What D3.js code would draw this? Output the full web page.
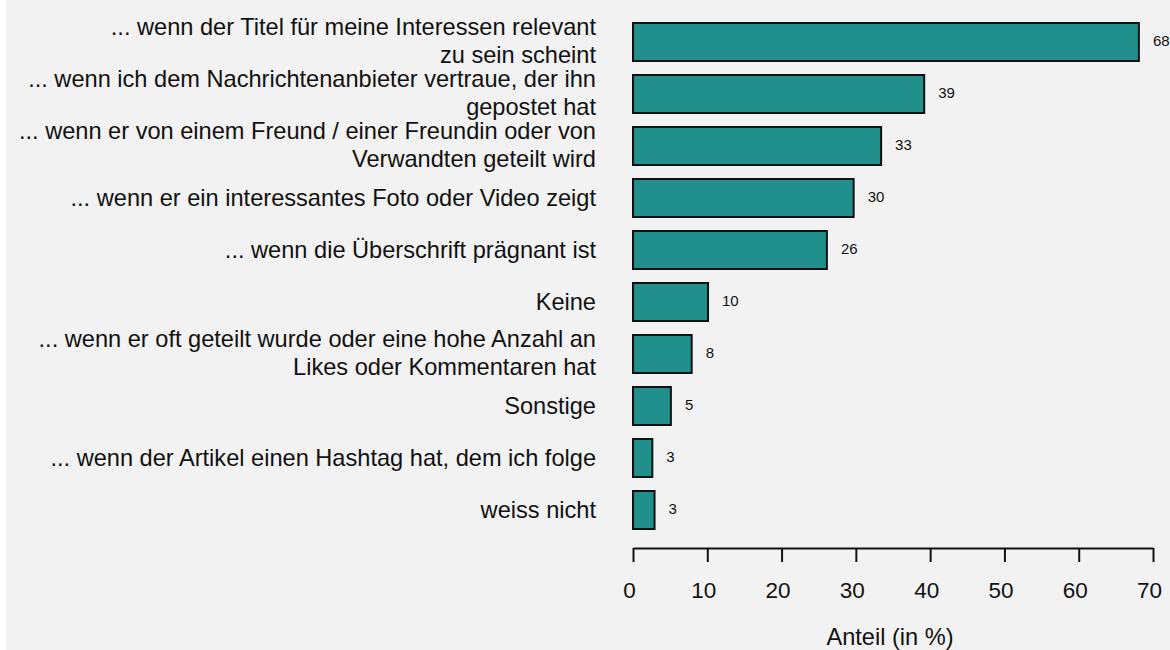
<!DOCTYPE html>
<html>
<head>
<meta charset="utf-8">
<script src="https://cdn.jsdelivr.net/npm/d3@7"></script>
<style>
  body { margin: 0; background: #ffffff; }
  svg { display: block; font-family: "Liberation Sans", Arial, sans-serif; }
</style>
</head>
<body>
<svg class="chart"></svg>
<script>
// Chart data.
var categories = [
    ["... wenn der Titel für meine Interessen relevant", "zu sein scheint"],
    ["... wenn ich dem Nachrichtenanbieter vertraue, der ihn", "gepostet hat"],
    ["... wenn er von einem Freund / einer Freundin oder von", "Verwandten geteilt wird"],
    ["... wenn er ein interessantes Foto oder Video zeigt"],
    ["... wenn die Überschrift prägnant ist"],
    ["Keine"],
    ["... wenn er oft geteilt wurde oder eine hohe Anzahl an", "Likes oder Kommentaren hat"],
    ["Sonstige"],
    ["... wenn der Artikel einen Hashtag hat, dem ich folge"],
    ["weiss nicht"]
];
var values = [68.1, 39.2, 33.4, 29.7, 26.1, 10.1, 7.9, 5.1, 2.6, 2.9];
var xTicks = [0, 10, 20, 30, 40, 50, 60, 70];
var xTitle = "Anteil (in %)";

window.onload = function () {

    var width = 1170;
    var height = 650;

    var svg = d3.select("svg.chart")
        .attr("width", width)
        .attr("height", height);

    svg.append("rect") // panel background
        .attr("x", 6)
        .attr("y", 0)
        .attr("width", width - 6)
        .attr("height", height)
        .attr("fill", "#f2f2f2");

    var rows = categories.map(function (lines, i) {
        return { key: i, lines: lines, value: values[i] };
    });

    var x = d3.scaleLinear()
        .domain([0, 70])
        .range([633, 1153]);

    var y = d3.scaleBand()
        .domain(rows.map(function (d) { return d.key; }))
        .range([16, 536])
        .paddingInner(14 / 52)
        .paddingOuter(7 / 52);

    // bars
    svg.selectAll("rect.bar")
        .data(rows)
        .enter()
        .append("rect")
            .attr("class", "bar")
            .attr("x", x(0))
            .attr("y", function (d) { return y(d.key); })
            .attr("width", function (d) { return x(d.value) - x(0); })
            .attr("height", y.bandwidth())
            .attr("fill", "#21908c")
            .attr("stroke", "#111111")
            .attr("stroke-width", 2);

    // value labels next to the bars
    svg.selectAll("text.value")
        .data(rows)
        .enter()
        .append("text")
            .attr("class", "value")
            .attr("x", function (d) { return x(d.value) + 14; })
            .attr("y", function (d) { return y(d.key) + y.bandwidth() / 2 + 4; })
            .attr("font-size", 15)
            .attr("fill", "#111111")
            .text(function (d) { return Math.round(d.value); });

    // category labels, right aligned, one or two lines
    var labels = svg.selectAll("text.cat")
        .data(rows)
        .enter()
        .append("text")
            .attr("class", "cat")
            .attr("text-anchor", "end")
            .attr("font-size", 23.6)
            .attr("fill", "#111111");

    labels.each(function (d) {
        var cy = y(d.key) + y.bandwidth() / 2;
        var t = d3.select(this);
        if (d.lines.length === 1) {
            t.append("tspan").attr("x", 596).attr("y", cy + 8).text(d.lines[0]);
        } else {
            t.append("tspan").attr("x", 596).attr("y", cy - 7).text(d.lines[0]);
            t.append("tspan").attr("x", 596).attr("y", cy + 21).text(d.lines[1]);
        }
    });

    // x axis
    var axis = svg.append("g")
        .attr("transform", "translate(0, 548)")
        .call(d3.axisBottom(x)
            .tickValues(xTicks)
            .tickSize(14)
            .tickSizeOuter(0)
            .tickPadding(0));

    axis.select(".domain")
        .attr("stroke", "#111111")
        .attr("stroke-width", 2);
    axis.selectAll(".tick line")
        .attr("stroke", "#111111")
        .attr("stroke-width", 2);
    axis.selectAll(".tick text")
        .attr("font-family", "Liberation Sans, Arial, sans-serif")
        .attr("font-size", 22.5)
        .attr("fill", "#111111")
        .attr("dy", null)
        .attr("x", -4)
        .attr("y", 50);

    svg.append("text") // axis title
        .attr("x", (x(0) + x(70)) / 2 - 3)
        .attr("y", 645)
        .attr("text-anchor", "middle")
        .attr("font-size", 23.6)
        .attr("fill", "#111111")
        .text(xTitle);
};
</script>
</body>
</html>
